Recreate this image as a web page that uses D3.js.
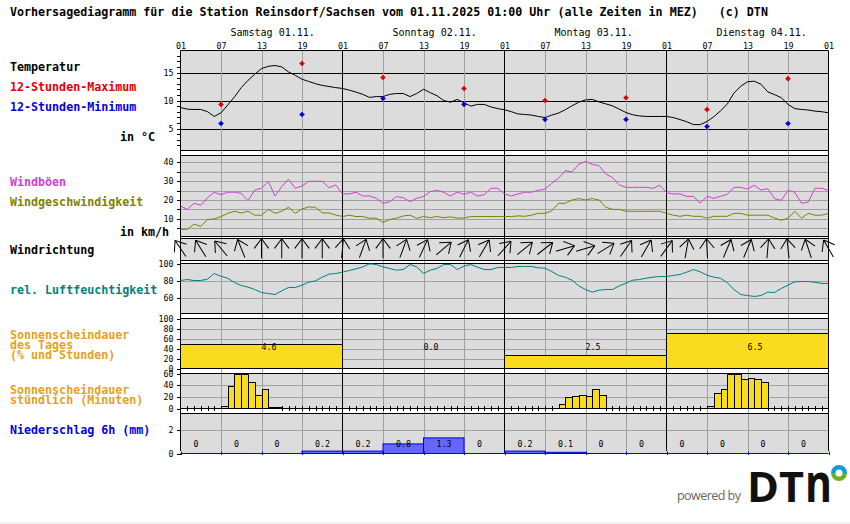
<!DOCTYPE html>
<html>
<head>
<meta charset="utf-8">
<script src="https://cdn.jsdelivr.net/npm/d3@7"></script>
<style>
  html, body { margin: 0; padding: 0; background: #fff; overflow: hidden; }
  text { font-family: "DejaVu Sans Mono", monospace; }
  .label { font-size: 11.67px; font-weight: bold; }
  .tick text, .small { font-size: 8.3px; fill: #000; }
  .day { font-size: 10px; }
  .domain { display: none; }
</style>
</head>
<body>
<div id="chart"></div>
<script>
// hourly forecast, h0 = Sat 01:00, 97 values
var temperature = [8.75,8.45,8.4,8.4,8,7.15,7.8,9.2,10.65,12.3,13.6,14.7,15.7,16.1,16.25,16,15.1,14.5,13.8,13.4,13,12.7,12.5,12.3,12.15,11.85,11.5,11.1,10.55,10.7,10.7,11.1,11.25,11.25,10.7,11.25,12,11.4,10.85,10,9.7,10.2,9.6,9,9.3,9.3,8.85,8.55,8.35,8,7.6,7.5,7.4,7.15,6.95,7.4,7.75,8.35,9.05,9.7,10.1,10.2,9.75,9.4,9.05,8.45,7.85,7.45,7.25,7.15,7.15,7.15,7.15,6.95,6.6,6.2,5.7,5.7,6.25,7.1,8.15,9.35,11.35,12.55,13.35,13.45,12.9,11.55,11.05,10.5,9.3,8.55,8.4,8.3,8.1,8,7.8];
var maxHours = [6,18,30,42,54,66,78,90];
var temp12Max = [9.3,16.6,14.1,12.15,10,10.5,8.4,13.9];
var temp12Min = [5.9,7.5,10.35,9.3,6.6,6.6,5.35,5.9];

var gusts = [16.8,15,18.2,17.2,21.2,24.1,22.8,24.1,24.1,23.5,19.6,25.3,26.2,29.9,22.1,27.1,31,26.2,27.4,29.9,29.9,29.9,26.5,28,23.2,23.2,24.1,22.1,22.1,20.9,18.2,19.1,21.8,21.2,19.1,20.9,21.8,24.4,25.1,24.1,22.1,24.1,23,24.1,22.1,22.8,26.2,26.2,23.2,22.1,23.2,24.1,24.1,25.1,25.8,28.8,31.5,35.6,34.9,38.9,40.5,38.9,38.2,33.8,31.9,28,26.7,26.7,26.7,26.7,26.2,27.8,23.9,23.2,23.2,21.9,21.9,18.2,21.9,20.9,21.9,23,26.7,26.7,25.8,27.8,25.3,26,20.7,19.8,25.1,24.1,18.2,18.9,26.2,26.2,25];
var windSpeed = [4.4,4.4,7.1,6,9.6,9.9,11.2,12.9,14,13.1,14,11.9,11.9,15,12.9,14,16.1,12.9,15.2,16.3,16.1,13.1,13.1,12,11.2,11.9,11.2,11.2,10.3,10.3,8.1,9.6,10.3,11.5,11.9,10.3,11.2,10.6,11.2,10.6,11,10.4,10.4,11.2,11.2,11.2,11.2,11.2,11.2,11.2,11.5,11.3,11.9,12.9,12.9,14.2,18.2,18.2,20,20.7,20,20.7,20,16.1,15,15,14,14,14,14,14,14,12.9,11.9,11.3,11.9,11.3,11.3,10.3,11.3,11.3,11.3,12.9,12.9,11.9,11.9,11.9,11.9,10.4,9.2,10.3,14,10.3,12.9,11.9,11.9,12.9];

// bearing the arrow points to, every 3 hours
var windArrows = [-34,-32,-40,-22,0,0,0,0,5,20,0,20,25,50,27,30,42,51,52,73,73,58,35,30,36,10,-3,23,23,5,-6,-18,-30];

var humidity = [80,81.2,80,80,81.6,88.2,85,82.7,77.6,74.1,72.2,69.4,65.9,64.7,63.5,67.8,71.8,71.8,74.5,78,79.6,83.9,87.5,88.2,89.8,91.8,93.7,96,99.6,98.8,96,94.1,92.2,92.9,98.8,96,88.2,92.2,94.1,98.8,98.8,92.9,96.9,98.8,95.7,92.9,92.9,95.3,95.3,95.3,96.5,96.5,96.5,94.9,94.5,90.6,85.9,83.9,80.4,73.7,69.4,66.3,68.6,69.4,69.4,73.7,76.9,80.4,81.2,82.7,83.9,84.7,84.7,85.9,87.1,89.8,92.9,90.2,86.3,83.9,82.7,77.3,69.4,63.5,62.3,61.2,62.3,66.3,65.9,70.6,74.5,78.4,78.8,78.8,78,76.5,76.5];

var sunDayPercent = [48,0,26,70];
var sunDayHours = ["4.6","0.0","2.5","6.5"];
// minutes of sun per hour, 96 values
var sunHourly = [0,0,0,0,0,0,5,38,60,60,45,24,34,3,3,0,0,0,0,0,0,0,0,0,
                 0,0,0,0,0,0,0,0,0,0,0,0,0,0,0,0,0,0,0,0,0,0,0,0,
                 0,0,0,0,0,0,0,0,7,19,22,24,22,33,24,0,0,0,0,0,0,0,0,0,
                 0,0,0,0,0,0,5,27,33,60,60,51,53,51,46,0,0,0,0,0,0,0,0,0];

var precip6h = [0,0,0,0.2,0.2,0.8,1.3,0,0.2,0.1,0,0,0,0,0,0];
var precipLabels = ["0","0","0","0.2","0.2","0.8","1.3","0","0.2","0.1","0","0","0","0","0","0"];

var dayLabels = ["Samstag 01.11.","Sonntag 02.11.","Montag 03.11.","Dienstag 04.11."];
var hourLabels = ["01","07","13","19"];

var svg = d3.select('#chart').append('svg')
    .attr('width', 850)
    .attr('height', 524)
    .style('display', 'block');

var x = d3.scaleLinear().domain([0, 96]).range([180.5, 828.5]);

var yTemp = d3.scaleLinear().domain([5, 15]).range([128.5, 72.5]);
var yWind = d3.scaleLinear().domain([0, 40]).range([237.6, 162.3]);
var yHum = d3.scaleLinear().domain([60, 100]).range([297.5, 263.5]);
var ySunDay = d3.scaleLinear().domain([0, 100]).range([368.5, 318.5]);
var ySunHour = d3.scaleLinear().domain([0, 60]).range([408.5, 373.5]);
var yRain = d3.scaleLinear().domain([0, 2]).range([453.5, 429.5]);

var GRID = '#a0a0a0';
var panels = [
  {top: 50.5, bottom: 150.5},
  {top: 155.5, bottom: 236.5},
  {top: 238.5, bottom: 260.5},
  {top: 263.5, bottom: 313.5},
  {top: 318.5, bottom: 368.5},
  {top: 373.5, bottom: 408.5},
  {top: 413.5, bottom: 453.5}
];

// panel backgrounds
svg.selectAll('.panel').data(panels).enter().append('rect')
    .attr('x', x(0))
    .attr('y', d => d.top)
    .attr('width', x(96) - x(0))
    .attr('height', d => d.bottom - d.top)
    .attr('fill', '#dcdcdc');

// horizontal grid
function hGrid(scale, values, color) {
  svg.append('g').selectAll('line').data(values).enter().append('line')
      .attr('x1', x(0)).attr('x2', x(96))
      .attr('y1', d => Math.round(scale(d)) + 0.5)
      .attr('y2', d => Math.round(scale(d)) + 0.5)
      .attr('stroke', color);
}
hGrid(yTemp, [5, 10, 15], '#000');
hGrid(yWind, [5, 10, 15, 20, 25, 30, 35, 40], GRID);
hGrid(yHum, [60, 80], GRID);
hGrid(ySunDay, [20, 40, 60, 80], GRID);
hGrid(ySunHour, [20, 40], GRID);
hGrid(yRain, [2], GRID);

// vertical grid, 6 hourly over all panels
var sixHours = d3.range(0, 97, 6);
svg.append('g').selectAll('line').data(sixHours.filter(d => d % 24 != 0)).enter().append('line')
    .attr('x1', d => Math.round(x(d)) + 0.5)
    .attr('x2', d => Math.round(x(d)) + 0.5)
    .attr('y1', 50.5).attr('y2', 452)
    .attr('stroke', GRID);

// left axes
function leftAxis(scale, ticks, labels) {
  var axis = d3.axisLeft(scale)
      .tickValues(ticks)
      .tickSize(4)
      .tickPadding(3)
      .tickFormat(d => labels.indexOf(d) >= 0 ? d : '');
  var g = svg.append('g')
      .attr('transform', `translate(${x(0)},0)`)
      .call(axis);
  g.selectAll('.tick line').attr('stroke', '#000').attr('shape-rendering', 'crispEdges');
  g.selectAll('.tick text').attr('font-family', 'DejaVu Sans Mono');
}
leftAxis(yTemp, d3.range(2, 19), [5, 10, 15]);
leftAxis(yWind, d3.range(5, 45, 5), [10, 20, 30, 40]);
leftAxis(yHum, [60, 80, 100], [60, 80, 100]);
leftAxis(ySunDay, [0, 20, 40, 60, 80, 100], [0, 20, 40, 60, 80, 100]);
leftAxis(ySunHour, [0, 20, 40, 60], [0, 20, 40, 60]);
leftAxis(yRain, [0, 2], [0, 2]);

// top hour axis
var topAxis = d3.axisTop(x)
    .tickValues(sixHours)
    .tickSize(0)
    .tickPadding(2)
    .tickFormat(d => hourLabels[(d / 6) % 4]);
svg.append('g').attr('transform', 'translate(0,50.5)').call(topAxis);

svg.selectAll('.dayLabel').data(dayLabels).enter().append('text')
    .attr('class', 'day')
    .attr('x', (d, i) => x(24 * i + 12) - 31)
    .attr('y', 36)
    .text(d => d);

// daily sunshine
svg.append('g').selectAll('rect').data(sunDayPercent).enter().append('rect')
    .attr('x', (d, i) => x(24 * i))
    .attr('width', x(24) - x(0))
    .attr('y', d => ySunDay(d))
    .attr('height', d => ySunDay(0) - ySunDay(d))
    .attr('fill', '#fadc1e')
    .attr('stroke', '#000')
    .attr('stroke-opacity', d => d > 0 ? 1 : 0);

svg.selectAll('.sunText').data(sunDayHours).enter().append('text')
    .attr('class', 'small')
    .attr('x', (d, i) => x(24 * i + 12))
    .attr('y', 350)
    .text(d => d);

// hourly sunshine
var hourBars = sunHourly.map((v, i) => ({h: i, v: v}));
svg.append('g').selectAll('rect').data(hourBars.filter(d => d.v > 0)).enter().append('rect')
    .attr('x', d => Math.round(x(d.h)) + 0.5)
    .attr('width', d => Math.round(x(d.h + 1)) - Math.round(x(d.h)))
    .attr('y', d => Math.round(ySunHour(d.v)) + 0.5)
    .attr('height', d => ySunHour(0) - Math.round(ySunHour(d.v)) - 0.5)
    .attr('fill', '#fadc1e')
    .attr('stroke', '#000');
svg.append('g').selectAll('line').data(hourBars.filter(d => d.v == 0 && d.h % 24 != 0)).enter().append('line')
    .attr('x1', d => Math.round(x(d.h)) + 0.5)
    .attr('x2', d => Math.round(x(d.h)) + 0.5)
    .attr('y1', ySunHour(0) - 2.5)
    .attr('y2', ySunHour(0) + 2)
    .attr('stroke', '#000')
    .attr('shape-rendering', 'crispEdges');

// precipitation
svg.append('g').selectAll('rect').data(precip6h).enter().append('rect')
    .attr('x', (d, i) => x(i * 6))
    .attr('width', x(6) - x(0))
    .attr('y', d => yRain(d))
    .attr('height', d => yRain(0) - yRain(d))
    .attr('fill', '#6666ff')
    .attr('stroke', '#0000e0')
    .attr('stroke-opacity', d => d > 0 ? 1 : 0);
svg.append('line')
    .attr('x1', x(0)).attr('x2', x(96))
    .attr('y1', yRain(0)).attr('y2', yRain(0))
    .attr('stroke', '#0000e0');
svg.append('g').selectAll('line').data(sixHours).enter().append('line')
    .attr('x1', d => Math.round(x(d)) + 0.5)
    .attr('x2', d => Math.round(x(d)) + 0.5)
    .attr('y1', yRain(0) - 2).attr('y2', yRain(0) + 1.5)
    .attr('stroke', '#0000e0');
svg.selectAll('.rainText').data(precipLabels).enter().append('text')
    .attr('class', 'small')
    .attr('x', (d, i) => x(i * 6) + 13)
    .attr('y', 447)
    .text(d => d);

// horizontal panel borders and day lines
var borders = [];
panels.forEach(p => { borders.push(p.top); borders.push(p.bottom); });
svg.append('g').selectAll('line').data(borders.filter(d => d != 453.5)).enter().append('line')
    .attr('x1', x(0)).attr('x2', x(96))
    .attr('y1', d => d).attr('y2', d => d)
    .attr('stroke', '#000');
svg.append('g').selectAll('line').data([0, 24, 48, 72, 96]).enter().append('line')
    .attr('x1', d => x(d)).attr('x2', d => x(d))
    .attr('y1', 50.5).attr('y2', 451)
    .attr('stroke', '#000');

// series lines
var hourLine = scale => d3.line().x((d, i) => x(i)).y(d => scale(d));
function drawLine(values, scale, color) {
  svg.append('path')
      .datum(values)
      .attr('d', hourLine(scale))
      .attr('fill', 'none')
      .attr('stroke', color)
      .attr('stroke-width', 1);
}
drawLine(temperature, yTemp, '#000');
drawLine(gusts, yWind, '#d040d0');
drawLine(windSpeed, yWind, '#808000');
drawLine(humidity, yHum, '#008080');

// 12 hour extremes
function drawMarks(values, color) {
  svg.append('g').selectAll('path').data(values).enter().append('path')
      .attr('d', d3.symbol().type(d3.symbolDiamond2).size(20))
      .attr('transform', (d, i) => `translate(${x(maxHours[i])},${yTemp(d)})`)
      .attr('fill', color);
}
drawMarks(temp12Max, '#e00000');
drawMarks(temp12Min, '#0000e0');

// wind arrows
var arrowLen = 19.5, barbLen = 12, barbAngle = 37;
var arrows = svg.append('g').selectAll('g').data(windArrows).enter().append('g')
    .attr('transform', (d, i) => `translate(${x(i * 3)},248.5) rotate(${d})`)
    .attr('stroke', '#000')
    .attr('fill', 'none');
arrows.append('line').attr('y1', arrowLen / 2).attr('y2', -arrowLen / 2);
[-barbAngle, barbAngle].forEach(function(a) {
  arrows.append('line')
      .attr('y1', -arrowLen / 2)
      .attr('y2', -arrowLen / 2 + barbLen)
      .attr('transform', `rotate(${a},0,${-arrowLen / 2})`);
});

// texts on the left
var labels = [
  ['Temperatur', 10, 71, '#000'],
  ['12-Stunden-Maximum', 10, 91, '#e00000'],
  ['12-Stunden-Minimum', 10, 111, '#0000e0'],
  ['in °C', 120, 141, '#000'],
  ['Windböen', 10, 186, '#d040d0'],
  ['Windgeschwindigkeit', 10, 206, '#808000'],
  ['in km/h', 120, 236, '#000'],
  ['Windrichtung', 10, 254, '#000'],
  ['rel. Luftfeuchtigkeit', 10, 294, '#008080'],
  ['Sonnenscheindauer', 10, 339, '#e8a020'],
  ['des Tages', 10, 349, '#e8a020'],
  ['(% und Stunden)', 10, 359, '#e8a020'],
  ['Sonnenscheindauer', 10, 394, '#e8a020'],
  ['stündlich (Minuten)', 10, 404, '#e8a020'],
  ['Niederschlag 6h (mm)', 10, 434, '#0000e0'],
  ['Vorhersagediagramm für die Station Reinsdorf/Sachsen vom 01.11.2025 01:00 Uhr (alle Zeiten in MEZ)   (c) DTN', 10, 16, '#000']
];
svg.selectAll('.label').data(labels).enter().append('text')
    .attr('class', 'label')
    .attr('x', d => d[1])
    .attr('y', d => d[2])
    .attr('fill', d => d[3])
    .attr('xml:space', 'preserve')
    .style('white-space', 'pre')
    .text(d => d[0]);

// logo
svg.append('text')
    .attr('x', 677).attr('y', 500)
    .attr('font-size', 12.5)
    .attr('fill', '#666')
    .attr('textLength', 64)
    .style('font-family', 'Open Sans')
    .text('powered by');
svg.append('text')
    .attr('x', 747).attr('y', 502)
    .attr('font-size', 41)
    .attr('font-weight', 'bold')
    .attr('fill', '#111')
    .attr('textLength', 57)
    .attr('lengthAdjust', 'spacingAndGlyphs')
    .style('font-family', 'Open Sans')
    .text('DT');
svg.append('text')
    .attr('x', 805).attr('y', 502)
    .attr('font-size', 53)
    .attr('font-weight', 'bold')
    .attr('fill', '#111')
    .attr('textLength', 27)
    .attr('lengthAdjust', 'spacingAndGlyphs')
    .style('font-family', 'Open Sans')
    .text('n');
var ring = d3.arc().innerRadius(3.5).outerRadius(8);
var logo = svg.append('g').attr('transform', 'translate(839,473)');
logo.append('path').attr('d', ring({startAngle: -Math.PI / 2, endAngle: Math.PI / 2})).attr('fill', '#0f9bd7');
logo.append('path').attr('d', ring({startAngle: Math.PI / 2, endAngle: Math.PI * 1.5})).attr('fill', '#6ab023');

svg.append('rect').attr('x', 0).attr('y', 522).attr('width', 850).attr('height', 2).attr('fill', '#f2f2f2');
</script>
</body>
</html>
